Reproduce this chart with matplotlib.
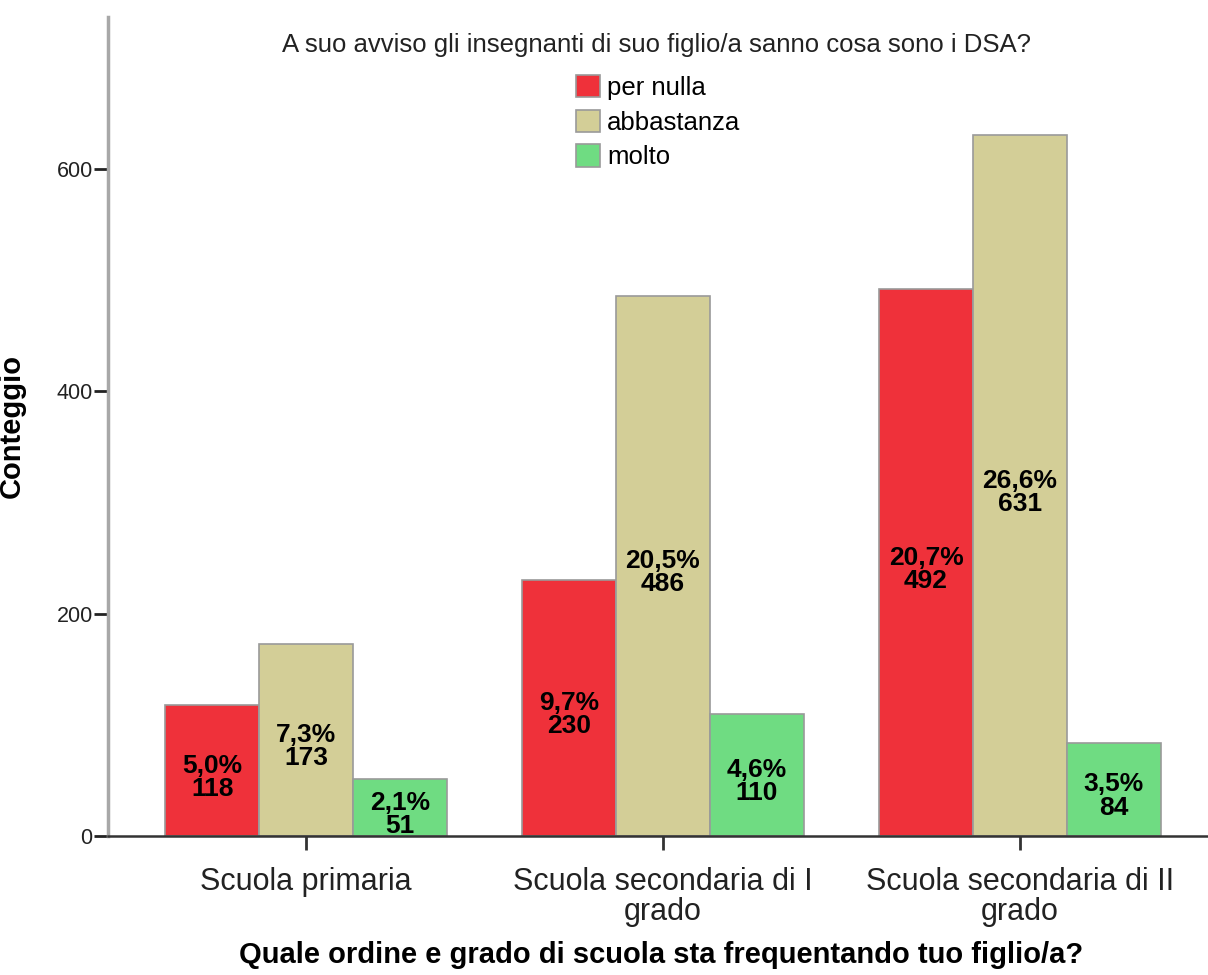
import numpy as np
import matplotlib.pyplot as plt
from matplotlib.patches import Patch

# dati
categorie = ["Scuola primaria", "Scuola secondaria di I\ngrado", "Scuola secondaria di II\ngrado"]
risposte = ["per nulla", "abbastanza", "molto"]
per_nulla = [118, 230, 492]
abbastanza = [173, 486, 631]
molto = [51, 110, 84]
perc_per_nulla = ["5,0%", "9,7%", "20,7%"]
perc_abbastanza = ["7,3%", "20,5%", "26,6%"]
perc_molto = ["2,1%", "4,6%", "3,5%"]
colori = ["#ef313a", "#d3ce97", "#6fdc82"]

serie = [per_nulla, abbastanza, molto]
percentuali = [perc_per_nulla, perc_abbastanza, perc_molto]

plt.rcParams['font.family'] = ['Liberation Sans', 'DejaVu Sans']

W, H = 1208, 975
fig = plt.figure(figsize=(W / 100, H / 100), dpi=100)
ax = fig.add_axes([108 / W, (H - 836) / H, 1100 / W, (836 - 17) / H])

x = np.arange(len(categorie))
larghezza = 0.263

for i, (valori, perc, col) in enumerate(zip(serie, percentuali, colori)):
    pos = x + (i - 1) * larghezza
    ax.bar(pos, valori, width=larghezza, color=col, edgecolor="#9a9a9a", linewidth=1.2,
           label=risposte[i], zorder=2)
    for px, v, p in zip(pos, valori, perc):
        ax.text(px, v / 2 - 6, f"{p}\n{v}", ha="center", va="center", fontsize=19,
                fontweight="bold", linespacing=0.95,
                family=['Liberation Sans Narrow', 'Liberation Sans'], color="black", zorder=3)

ax.set_xlim(-0.555, 2.527)
ax.set_ylim(0, 737)
ax.set_yticks([0, 200, 400, 600])
ax.set_xticks(x)
ax.set_xticklabels(categorie, fontsize=22, color="#222222", linespacing=1.0)
ax.tick_params(axis="y", labelsize=15.5, length=10, width=2, color="#222222", pad=1, labelcolor="#222222")
ax.tick_params(axis="x", length=10, width=2, color="#333333", pad=12)

for lato in ["top", "right"]:
    ax.spines[lato].set_visible(False)
ax.spines["left"].set_color("#a8a8a8")
ax.spines["left"].set_linewidth(2.5)
ax.spines["bottom"].set_color("#333333")
ax.spines["bottom"].set_linewidth(1.8)

ax.set_ylabel("Conteggio", fontsize=21, fontweight="bold")
ax.yaxis.set_label_coords(26 / W, 1 - 426 / H, transform=fig.transFigure)
ax.set_xlabel("Quale ordine e grado di scuola sta frequentando tuo figlio/a?", fontsize=21,
              fontweight="bold", va="center")
ax.xaxis.set_label_coords(661 / W, 1 - 955 / H, transform=fig.transFigure)

fig.text(657 / W, 1 - 45 / H, "A suo avviso gli insegnanti di suo figlio/a sanno cosa sono i DSA?",
         ha="center", va="center", fontsize=18.5, color="#222222")

maniglie = [Patch(facecolor=c, edgecolor="#9a9a9a", linewidth=1.2) for c in colori]
ax.legend(maniglie, risposte, loc="upper left", bbox_to_anchor=(576 / W, 1 - 75 / H),
          bbox_transform=fig.transFigure, frameon=False, fontsize=18.5, borderpad=0,
          handlelength=0.95, handleheight=0.95, handletextpad=0.25, labelspacing=0.38,
          borderaxespad=0)

fig.savefig("out.png", dpi=100)
